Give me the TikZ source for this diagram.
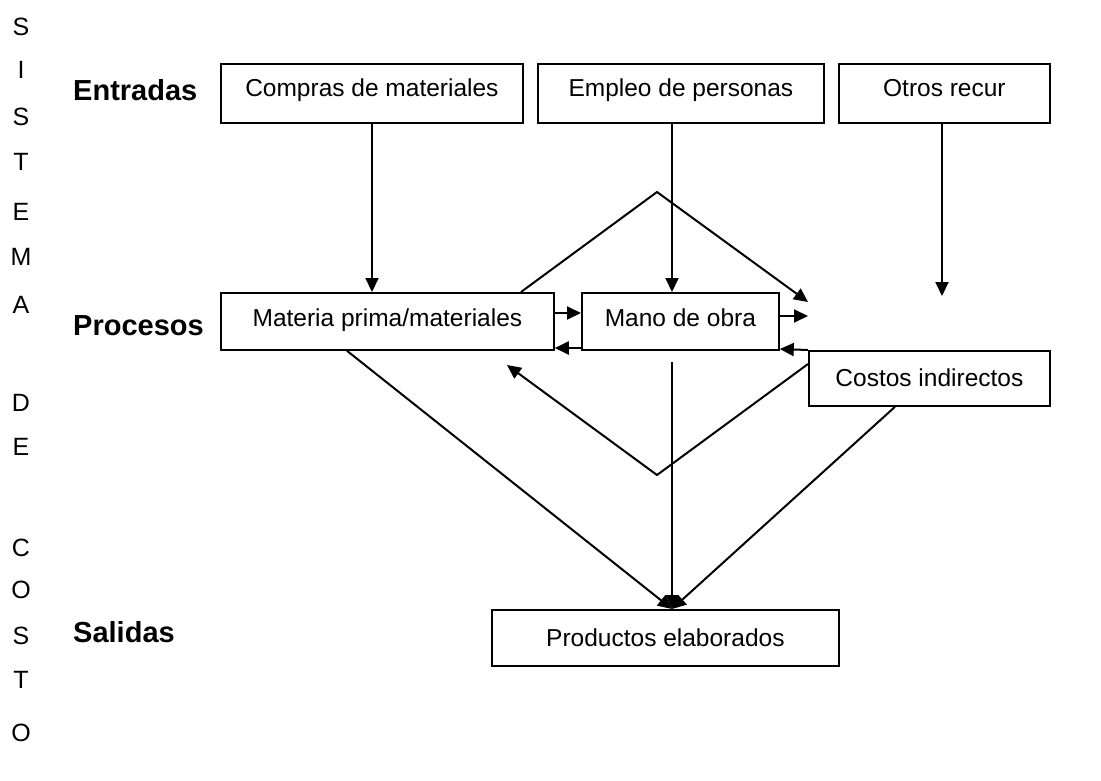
\documentclass[tikz,border=0pt]{standalone}
\usepackage{fontspec}
\setmainfont{Liberation Sans}
\usetikzlibrary{arrows.meta}
\begin{document}
\begin{tikzpicture}[x=1pt,y=-1pt,
  box/.style={draw,line width=1.8pt,inner sep=0pt,font=\fontsize{24.5}{28}\selectfont},
  lab/.style={font=\fontsize{29}{33}\selectfont\bfseries,anchor=west,inner sep=0pt},
  side/.style={font=\fontsize{25}{28}\selectfont,inner sep=0pt},
  con/.style={line width=2pt},
  arr/.style={con,-{Triangle[length=14pt,width=13pt]}}]
\useasboundingbox (0,0) rectangle (1101,780);
% side text
\foreach \t/\y [count=\i] in {S/27,I/70,S/117,T/162,E/212,M/257,A/305,D/403,E/447,C/548,O/590,S/636,T/680,O/733}
  \node[side] (s\i) at (21,\y) {\t};
\node[lab] (ent) at (73,90) {Entradas};
\node[lab] (pro) at (73,326) {Procesos};
\node[lab] (sal) at (73,632) {Salidas};
% boxes
\node[box,minimum width=302pt,minimum height=59pt,anchor=north west] (com) at (220,63) {\raisebox{11pt}{Compras de materiales}};
\node[box,minimum width=286pt,minimum height=59pt,anchor=north west] (emp) at (537,63) {\raisebox{11pt}{Empleo de personas}};
\node[box,minimum width=211pt,minimum height=59pt,anchor=north west] (otr) at (838,63) {\raisebox{11pt}{Otros recur}};
\node[box,minimum width=333pt,minimum height=57pt,anchor=north west] (mat) at (220,292) {\raisebox{8pt}{Materia prima/materiales}};
\node[box,minimum width=197pt,minimum height=57pt,anchor=north west] (man) at (581,292) {\raisebox{8pt}{Mano de obra}};
\node[box,minimum width=241pt,minimum height=55pt,anchor=north west] (cos) at (808,350) {\raisebox{2pt}{Costos indirectos}};
\node[box,minimum width=347pt,minimum height=56pt,anchor=north west] (prd) at (491,609) {\raisebox{1pt}{Productos elaborados}};
% free ends
\coordinate (otrEnd) at (942,296);
\coordinate (apex) at (657,192);
\coordinate (triEnd) at (808,302);
\coordinate (manOut) at (808,316);
\coordinate (vBot) at (657,475);
\coordinate (vEnd) at (507,365);
\coordinate (manLow) at (672,362);
% connectors
\draw[arr] (com.south -| 372,0) -- (mat.north -| 372,0);
\draw[arr] (emp.south -| 672,0) -- (man.north -| 672,0);
\draw[arr] (otr.south -| otrEnd) -- (otrEnd);
\draw[arr] (mat.north -| 521,0) -- (apex) -- (triEnd);
\draw[arr] (mat.east |- 0,313) -- (man.west |- 0,313);
\draw[arr] (man.east |- 0,316) -- (manOut);
\draw[arr] (man.west |- 0,348) -- (mat.east |- 0,348);
\draw[arr] (cos.north west) -- (man.east |- 0,349);
\draw[arr] (cos.west |- 0,364) -- (vBot) -- (vEnd);
\draw[arr] (manLow) -- (prd.north -| manLow);
\draw[arr] (mat.south -| 347,0) -- (prd.north -| manLow);
\draw[arr] (cos.south -| 895,0) -- (prd.north -| manLow);
\end{tikzpicture}
\end{document}
